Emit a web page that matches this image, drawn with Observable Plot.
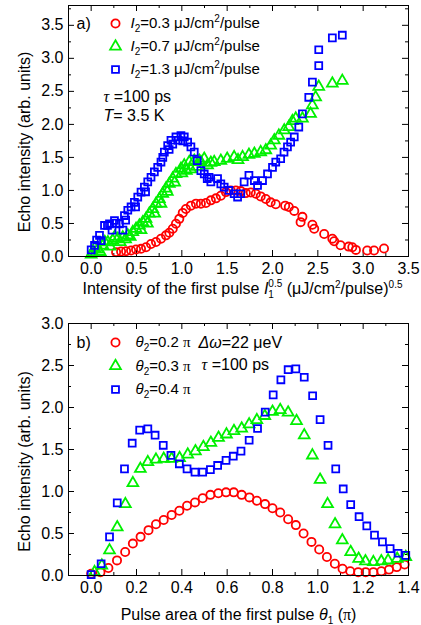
<!DOCTYPE html>
<html><head><meta charset="utf-8">
<script src="https://cdn.jsdelivr.net/npm/d3@7"></script>
<script src="https://cdn.jsdelivr.net/npm/@observablehq/plot@0.6"></script>
<style>
body{margin:0;background:#fff;}
#chart{width:421px;}
#chart svg{display:block;}
</style></head><body><div id="chart"></div>
<script>
// ---------- Panel a data ----------
const aRedX = [0.275,0.33,0.385,0.44,0.495,0.55,0.605,0.66,0.715,0.77,0.825,0.862,0.90,0.935,0.972,1.01,1.045,1.10,1.156,1.21,1.266,1.32,1.376,1.43,1.486,1.54,1.596,1.65,1.706,1.76,1.816,1.87,1.926,1.98,2.036,2.14,2.18,2.24,2.31,2.33,2.44,2.46,2.57,2.66,2.68,2.75,2.84,2.88,2.92,3.045,3.12,3.23];
const aRedY = [0.066,0.076,0.081,0.09,0.106,0.116,0.14,0.19,0.22,0.27,0.32,0.36,0.42,0.495,0.57,0.66,0.72,0.77,0.80,0.80,0.81,0.85,0.88,0.92,0.975,1.0,1.0,0.99,0.96,0.97,0.95,0.91,0.87,0.82,0.79,0.77,0.75,0.69,0.52,0.60,0.48,0.42,0.34,0.27,0.23,0.17,0.15,0.14,0.10,0.09,0.09,0.12];

const aGreenX = [0.00,0.018,0.04,0.073,0.10,0.129,0.15,0.184,0.21,0.239,0.26,0.294,0.32,0.349,0.38,0.404,0.43,0.459,0.495,0.532,0.55,0.569,0.605,0.62,0.642,0.679,0.70,0.715,0.752,0.77,0.789,0.825,0.84,0.862,0.899,0.92,0.935,0.99,1.00,1.027,1.05,1.082,1.10,1.137,1.16,1.192,1.21,1.247,1.284,1.32,1.357,1.43,1.50,1.577,1.62,1.67,1.74,1.80,1.87,1.926,1.98,2.02,2.07,2.13,2.18,2.22,2.256,2.33,2.42,2.44,2.476,2.51,2.66,2.77];
const aGreenY = [0.03,0.066,0.13,0.106,0.07,0.167,0.22,0.217,0.15,0.242,0.30,0.27,0.22,0.29,0.26,0.32,0.30,0.37,0.42,0.47,0.40,0.52,0.57,0.50,0.65,0.72,0.65,0.80,0.87,0.80,0.95,1.03,0.98,1.10,1.18,1.12,1.25,1.33,1.26,1.38,1.30,1.43,1.32,1.45,1.36,1.45,1.43,1.48,1.38,1.42,1.43,1.45,1.48,1.505,1.46,1.505,1.54,1.555,1.58,1.61,1.68,1.76,1.83,1.91,1.96,2.05,2.09,2.09,2.16,2.29,2.41,2.57,2.62,2.66];

const aBlueX = [0.00,0.037,0.06,0.092,0.11,0.147,0.18,0.202,0.23,0.257,0.275,0.312,0.35,0.367,0.38,0.404,0.44,0.477,0.49,0.514,0.55,0.587,0.60,0.624,0.66,0.697,0.734,0.77,0.79,0.807,0.844,0.86,0.88,0.90,0.935,0.96,0.99,1.01,1.027,1.064,1.10,1.137,1.17,1.21,1.247,1.28,1.30,1.32,1.394,1.43,1.467,1.52,1.577,1.615,1.65,1.687,1.74,1.80,1.835,1.89,1.945,2.00,2.036,2.09,2.127,2.165,2.20,2.24,2.29,2.33,2.40,2.44,2.51,2.51,2.66,2.77];
const aBlueY = [0.10,0.167,0.25,0.32,0.24,0.47,0.47,0.495,0.40,0.545,0.505,0.495,0.40,0.62,0.55,0.70,0.75,0.82,0.75,0.90,0.975,1.05,0.98,1.13,1.20,1.28,1.35,1.43,1.50,1.58,1.68,1.62,1.76,1.70,1.81,1.76,1.83,1.75,1.81,1.73,1.66,1.58,1.45,1.30,1.25,1.18,1.20,1.13,1.18,1.10,1.05,1.00,0.95,0.90,0.95,1.13,1.23,1.15,1.075,1.15,1.25,1.35,1.43,1.48,1.58,1.66,1.73,1.81,1.96,2.16,2.41,2.64,2.89,3.13,3.31,3.35];

// ---------- Panel b data ----------
const bRedX = [0.000,0.041,0.076,0.114,0.150,0.184,0.218,0.253,0.286,0.320,0.355,0.389,0.423,0.458,0.492,0.526,0.561,0.595,0.629,0.664,0.698,0.731,0.767,0.800,0.834,0.869,0.903,0.937,0.972,1.006,1.040,1.075,1.109,1.143,1.178,1.211,1.245,1.280,1.314,1.348,1.383];
const bRedY = [0.02,0.04,0.09,0.18,0.28,0.38,0.46,0.54,0.61,0.66,0.72,0.77,0.83,0.87,0.92,0.96,0.98,0.99,0.99,0.96,0.93,0.89,0.85,0.80,0.75,0.67,0.60,0.50,0.40,0.31,0.22,0.14,0.08,0.05,0.04,0.04,0.04,0.05,0.07,0.10,0.13];

const bGreenX = [0.015,0.047,0.081,0.115,0.151,0.184,0.217,0.250,0.286,0.320,0.355,0.390,0.426,0.460,0.495,0.528,0.562,0.597,0.630,0.664,0.697,0.731,0.766,0.800,0.834,0.869,0.906,0.940,0.976,1.010,1.043,1.076,1.108,1.145,1.180,1.210,1.245,1.280,1.310,1.350,1.388];
const bGreenY = [0.04,0.12,0.30,0.575,0.85,1.10,1.27,1.35,1.38,1.39,1.39,1.40,1.44,1.48,1.53,1.58,1.64,1.68,1.72,1.75,1.80,1.85,1.90,1.95,1.97,1.94,1.84,1.67,1.43,1.14,0.85,0.61,0.42,0.28,0.20,0.17,0.16,0.17,0.18,0.20,0.22];

const bBlueX = [0.000,0.044,0.081,0.115,0.147,0.181,0.214,0.250,0.282,0.318,0.352,0.389,0.423,0.458,0.492,0.526,0.558,0.595,0.627,0.661,0.697,0.734,0.768,0.803,0.837,0.869,0.903,0.940,0.977,1.010,1.045,1.079,1.112,1.145,1.182,1.216,1.250,1.285,1.319,1.354,1.388];
const bBlueY = [0.01,0.14,0.46,0.865,1.27,1.575,1.73,1.745,1.67,1.55,1.43,1.33,1.27,1.23,1.23,1.26,1.31,1.37,1.42,1.48,1.61,1.75,1.945,2.15,2.33,2.45,2.46,2.36,2.14,1.855,1.55,1.27,1.03,0.845,0.70,0.59,0.48,0.40,0.32,0.265,0.24];

// ---------- ticks and labels ----------
const aXMajor = [0,0.5,1,1.5,2,2.5,3,3.5];
const aXMinor = [0.25,0.75,1.25,1.75,2.25,2.75,3.25];
const aYMajor = [0,0.5,1,1.5,2,2.5,3,3.5];
const aYMinor = [0.25,0.75,1.25,1.75,2.25,2.75,3.25,3.75];
const bXMajor = [0,0.2,0.4,0.6,0.8,1.0,1.2,1.4];
const bXMinor = [0.1,0.3,0.5,0.7,0.9,1.1,1.3];
const bYMajor = [0,0.5,1,1.5,2,2.5,3];
const bYMinor = [0.25,0.75,1.25,1.75,2.25,2.75];

const aLegend = ["I2=0.3 μJ/cm2/pulse","I2=0.7 μJ/cm2/pulse","I2=1.3 μJ/cm2/pulse"];
const bLegend = ["θ2=0.2 π","θ2=0.3 π","θ2=0.4 π"];
const aNotes = ["τ =100 ps","T= 3.5 K"];
const bNotes = ["Δω=22 μeV","τ =100 ps"];
const yLabel = "Echo intensity (arb. units)";
const aXLabel = "Intensity of the first pulse I1^0.5 (μJ/cm2/pulse)^0.5";
const bXLabel = "Pulse area of the first pulse θ1 (π)";

const colors = ["#ff0000","#00f000","#0000ff"];
const symbols = ["circle","triangle","square"];
const radii = [4.1,4.0,3.9];
const FONT = "'Liberation Sans', Arial, Helvetica, sans-serif";

// rich-text markup for labels with italics / sub / superscripts
const SUB = (s)=>`<tspan dy="4" font-size="10">${s}</tspan>`;
const rich = {};
aLegend.forEach(s=>{
  const v = s.slice(3,6);
  rich[s] = `<tspan font-style="italic">I</tspan>${SUB("2")}<tspan dy="-4">=${v} μJ/cm</tspan><tspan dy="-6" font-size="10">2</tspan><tspan dy="6">/pulse</tspan>`;
});
bLegend.forEach(s=>{
  const v = s.slice(3,6);
  rich[s] = `<tspan font-style="italic">θ</tspan>${SUB("2")}<tspan dy="-4">=${v} </tspan><tspan font-family="'Liberation Serif', serif">π</tspan>`;
});
rich["τ =100 ps"] = `<tspan font-style="italic" font-family="'Liberation Serif', serif">τ</tspan> =100 ps`;
rich["T= 3.5 K"] = `<tspan font-style="italic">T</tspan>= 3.5 K`;
rich["Δω=22 μeV"] = `<tspan font-style="italic">Δω</tspan>=22 μeV`;
rich[aXLabel] = `Intensity of the first pulse <tspan font-style="italic">I</tspan><tspan dy="4" font-size="10">1</tspan><tspan dx="-5.6" dy="-11" font-size="10">0.5</tspan><tspan dy="7"> (μJ/cm</tspan><tspan dy="-6" font-size="10">2</tspan><tspan dy="6">/pulse)</tspan><tspan dy="-6" font-size="10">0.5</tspan>`;
rich[bXLabel] = `Pulse area of the first pulse <tspan font-style="italic">θ</tspan><tspan dy="4" font-size="10">1</tspan><tspan dy="-4"> (</tspan><tspan font-family="'Liberation Serif', serif">π</tspan>)`;

const pts = (xs, ys) => xs.map((x,i)=>({x, y: ys[i]}));

function makePanel(c){
  const W=421, mL=68, mR=13;
  const pw=W-mL-mR, ph=c.height-c.mT-c.mB;
  const f=d3.format(".1f");
  const [X0,X1]=c.xDomain, [Y0,Y1]=c.yDomain;
  const marks=[];
  for (const [vals,len] of [[c.xMajor,6],[c.xMinor,3]]) {
    marks.push(Plot.ruleX(vals,{x:d=>d, insetTop:ph-len, stroke:"#000"}));
    marks.push(Plot.ruleX(vals,{x:d=>d, insetBottom:ph-len, stroke:"#000"}));
  }
  for (const [vals,len] of [[c.yMajor,6],[c.yMinor,3]]) {
    marks.push(Plot.ruleY(vals,{y:d=>d, insetRight:pw-len, stroke:"#000"}));
    marks.push(Plot.ruleY(vals,{y:d=>d, insetLeft:pw-len, stroke:"#000"}));
  }
  marks.push(Plot.axisX(c.xMajor,{anchor:"bottom", tickSize:0, tickPadding:6, tickFormat:f, label:null, fontSize:16}));
  marks.push(Plot.axisY(c.yMajor,{anchor:"left", tickSize:0, tickPadding:5, tickFormat:f, label:null, fontSize:16}));
  c.series.forEach((s,i)=>{
    marks.push(Plot.dot(s,{x:"x", y:"y", symbol:symbols[i], r:radii[i], fill:"none", stroke:colors[i], strokeWidth:1.8}));
  });
  marks.push(Plot.frame({stroke:"#000", strokeWidth:1}));
  // legend
  c.legend.forEach((lab,i)=>{
    const dy = c.legY + i*c.legStep;
    marks.push(Plot.dot([lab],{x:()=>X0, y:()=>Y1, dx:c.legX, dy, symbol:symbols[i], r:radii[i], fill:"none", stroke:colors[i], strokeWidth:1.8}));
    marks.push(Plot.text([lab],{x:()=>X0, y:()=>Y1, dx:c.legTextX, dy, text:d=>d, textAnchor:"start", fontSize:15}));
  });
  marks.push(Plot.text([c.panelLabel],{x:()=>X0, y:()=>Y1, dx:c.panelX, dy:c.legY, text:d=>d, textAnchor:"start", fontSize:16}));
  c.notes.forEach((n,i)=>{
    marks.push(Plot.text([n],{x:()=>X0, y:()=>Y1, dx:c.notes_pos[i][0], dy:c.notes_pos[i][1], text:d=>d, textAnchor:"start", fontSize:16}));
  });
  // axis titles
  marks.push(Plot.text([c.xLabel],{x:()=>(X0+X1)/2, y:()=>Y0, dx:c.xLabelDx, dy:c.xLabelDy, text:d=>d, fontSize:16}));
  marks.push(Plot.text([yLabel],{x:()=>X0, y:()=>(Y0+Y1)/2, dx:-44, dy:c.yLabelDy, rotate:-90, text:d=>d, fontSize:16}));
  return Plot.plot({
    width:W, height:c.height, marginLeft:mL, marginRight:mR, marginTop:c.mT, marginBottom:c.mB,
    x:{domain:c.xDomain}, y:{domain:c.yDomain},
    style:{fontFamily:FONT, fontSize:"16px", color:"#000", background:"#fff", overflow:"visible"},
    marks
  });
}

const svgA = makePanel({
  height:305, mT:5, mB:49, xDomain:[-0.25,3.5], yDomain:[0,3.8],
  xMajor:aXMajor, xMinor:aXMinor, yMajor:aYMajor, yMinor:aYMinor,
  series:[pts(aRedX,aRedY), pts(aGreenX,aGreenY), pts(aBlueX,aBlueY)],
  legend:aLegend, legX:47, legY:18, legStep:23, legTextX:62, panelLabel:"a)", panelX:8,
  notes:aNotes, notes_pos:[[35,91],[35,110]],
  xLabel:aXLabel, xLabelDx:4, xLabelDy:32, yLabelDy:11
});
const svgB = makePanel({
  height:320, mT:18, mB:50, xDomain:[-0.1,1.4], yDomain:[0,3.0],
  xMajor:bXMajor, xMinor:bXMinor, yMajor:bYMajor, yMinor:bYMinor,
  series:[pts(bRedX,bRedY), pts(bGreenX,bGreenY), pts(bBlueX,bBlueY)],
  legend:bLegend, legX:47, legY:19, legStep:23.5, legTextX:67, panelLabel:"b)", panelX:8,
  notes:bNotes, notes_pos:[[130,19],[133,41]],
  xLabel:bXLabel, xLabelDx:0, xLabelDy:39, yLabelDy:12
});
const chart = document.getElementById("chart");
chart.appendChild(svgA);
chart.appendChild(svgB);
chart.querySelectorAll("text").forEach(t=>{
  const k = t.textContent;
  if (rich[k]) t.innerHTML = rich[k];
});
</script>
</body></html>
